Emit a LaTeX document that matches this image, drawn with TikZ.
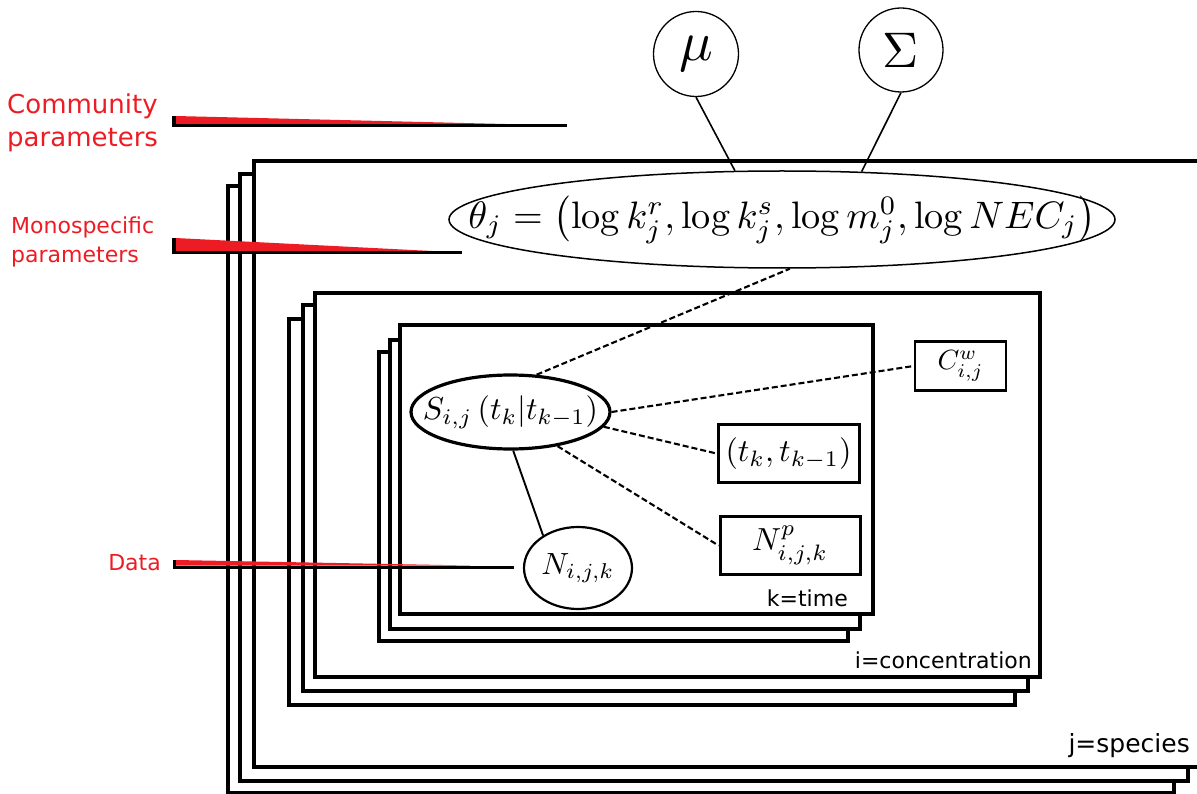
\documentclass[tikz,border=0pt]{standalone}
\usepackage{fontspec}
\usepackage{amsmath}
\usepackage{graphicx}
\usetikzlibrary{shapes.geometric}
\newfontfamily\dv{DejaVu Sans}
\definecolor{wred}{RGB}{237,28,36}
\begin{document}
\begin{tikzpicture}[x=1pt,y=-1pt,
  plate/.style={draw, line width=4pt, fill=white, line join=miter},
  ell/.style={ellipse, draw, inner sep=0pt},
  box/.style={rectangle, draw, inner sep=0pt, fill=white},
  dep/.style={line width=2.1pt, dash pattern=on 6pt off 3pt},
  sol/.style={line width=1.9pt},
  platelabel/.style={font=\dv\fontsize{22}{22}\selectfont, anchor=east, inner sep=0pt},
  redlabel/.style={text=wred, inner sep=0pt, align=left},
  leader/.style={line width=3.6pt, line join=miter},
  wedge/.style={fill=wred}
]
\useasboundingbox (0,0) rectangle (1197,794);

% species plates
\draw[plate] (228,186) rectangle (1174,793);
\draw[plate] (240,174) rectangle (1188,781);
\draw[plate] (254,161) rectangle (1210,767);
\node[platelabel, font=\dv\fontsize{25}{25}\selectfont] (jlab) at (1190,746) {j=species};

% concentration plates
\draw[plate] (289,319) rectangle (1015,705);
\draw[plate] (303,305) rectangle (1028,691);
\draw[plate] (315,293) rectangle (1040,677);
\node[platelabel] (ilab) at (1032,660) {i=concentration};

% time plates
\draw[plate] (379,352) rectangle (848,641);
\draw[plate] (390,340) rectangle (860,629);
\draw[plate] (400,325) rectangle (873,614);
\node[platelabel] (klab) at (848,598) {k=time};

% hyper-parameters
\node[circle, draw, line width=1.3pt, minimum size=85pt, inner sep=0pt] (mu) at (696,54) {\scalebox{5.6}{$\mu$}};
\node[circle, draw, line width=1.3pt, minimum size=84pt, inner sep=0pt] (Sigma) at (901,50) {\scalebox{5.0}{$\Sigma$}};

% theta
\node[ell, line width=1.5pt, minimum width=666pt, minimum height=97pt,
  label={[inner sep=0pt]center:\resizebox{627pt}{!}{$\theta_j=\left(\log k_j^r,\log k_j^s,\log m_j^0,\log NEC_j\right)$}}] (theta) at (782,219.5) {};

% survival
\node[ell, line width=3.2pt, minimum width=199pt, minimum height=74pt,
  label={[inner sep=0pt]center:\resizebox{175pt}{!}{$S_{i,j}\left(t_k|t_{k-1}\right)$}}] (S) at (510.5,412) {};

% data
\node[ell, line width=2.2pt, minimum width=108pt, minimum height=82pt,
  label={[inner sep=0pt]center:\resizebox{73pt}{!}{$N_{i,j,k}$}}] (N) at (578,568) {};

% covariates
\node[box, line width=3pt, minimum width=141pt, minimum height=58pt] (tk) at (788.5,453.5) {\resizebox{126pt}{!}{$(t_k,t_{k-1})$}};
\node[box, line width=3pt, minimum width=140pt, minimum height=58pt] (Np) at (790,545.5) {\resizebox{76pt}{!}{$N^p_{i,j,k}$}};
\node[box, line width=2.5pt, minimum width=91pt, minimum height=49pt] (Cw) at (960.5,366) {\resizebox{46pt}{!}{$C^w_{i,j}$}};

% connectors
\draw[sol, line width=1.6pt] (mu.south) -- (theta.134);
\draw[sol, line width=1.6pt] (Sigma.south) -- (theta.31);
\draw[dep] (S.55) -- (theta.279);
\draw[dep] (S.east) -- (Cw.west);
\draw[dep] (S.-9) -- (tk.west);
\draw[dep] (S.-36) -- (Np.west);
\draw[sol] (S.-86) -- (N.137);

% red leaders
\coordinate (cA) at (174,116);
\coordinate (cAc) at (174,125.5);
\coordinate (cAe) at (567,125.5);
\fill[wedge] (175.5,116) -- (505,124) -- (175.5,124) -- cycle;
\draw[leader] (cA) -- (cAc) -- (cAe);
\node[redlabel, anchor=west, font=\dv\fontsize{26}{33}\selectfont] (comm) at (7,123) {Community\\parameters};

\coordinate (mA) at (174,238);
\coordinate (mAc) at (174,252.5);
\coordinate (mAe) at (462,252.5);
\fill[wedge] (175.5,238) -- (432,251) -- (175.5,251) -- cycle;
\draw[leader] (mA) -- (mAc) -- (mAe);
\node[redlabel, anchor=west, font=\dv\fontsize{22}{29}\selectfont] (mono) at (11,242) {Monospecific\\parameters};

\coordinate (dA) at (174,560);
\coordinate (dAc) at (174,567);
\coordinate (dAe) at ([xshift=-9pt]N.west);
\fill[wedge] (175.5,560) -- (470,565.5) -- (175.5,565.5) -- cycle;
\draw[leader, line width=3pt] (dA) -- (dAc) -- (dAc -| dAe);
\node[redlabel, anchor=east, font=\dv\fontsize{22}{22}\selectfont] (data) at (161,563) {Data};
\end{tikzpicture}
\end{document}
